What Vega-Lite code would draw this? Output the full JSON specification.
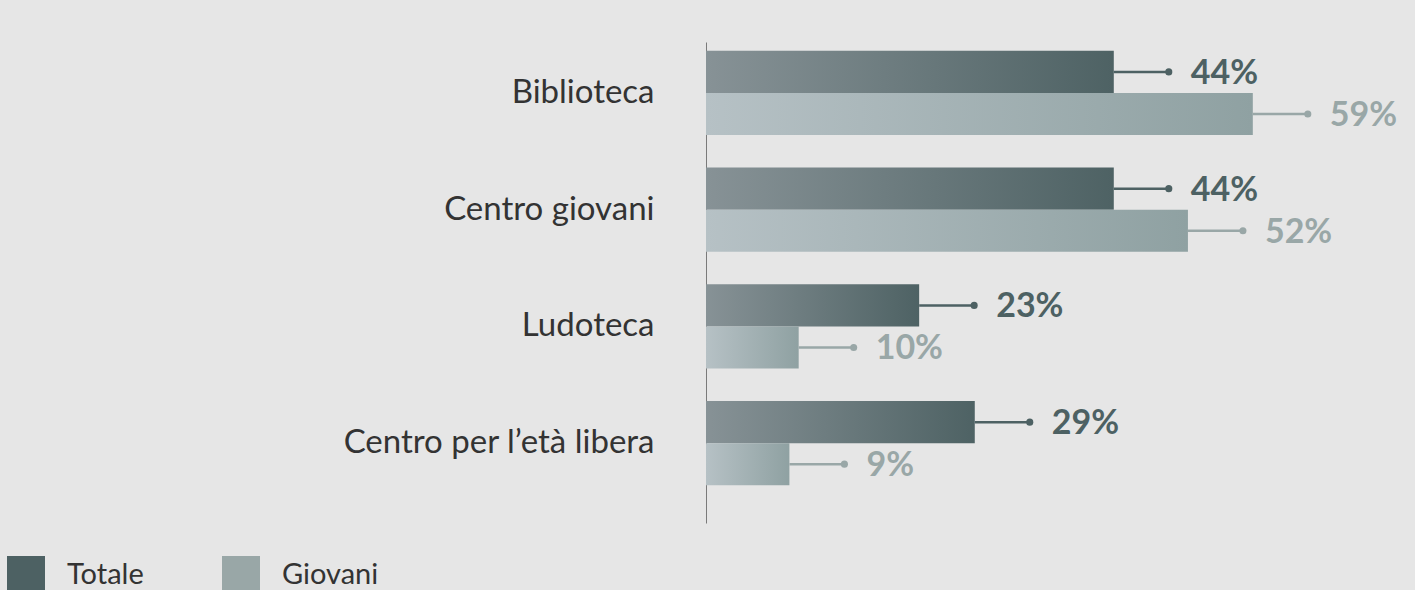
{
  "$schema": "https://vega.github.io/schema/vega-lite/v6.json",
  "width": 709,
  "height": 481,
  "autosize": {"type": "none"},
  "padding": {"left": 706, "top": 42, "right": 0, "bottom": 67},
  "background": "#e6e6e6",
  "config": {
    "view": {"stroke": null},
    "font": "Lato",
    "text": {"font": "Lato"}
  },
  "data": {
    "values": [
      {"cat": "Biblioteca", "series": "Totale", "value": 0.44},
      {"cat": "Biblioteca", "series": "Giovani", "value": 0.59},
      {"cat": "Centro giovani", "series": "Totale", "value": 0.44},
      {"cat": "Centro giovani", "series": "Giovani", "value": 0.52},
      {"cat": "Ludoteca", "series": "Totale", "value": 0.23},
      {"cat": "Ludoteca", "series": "Giovani", "value": 0.10},
      {"cat": "Centro per l’età libera", "series": "Totale", "value": 0.29},
      {"cat": "Centro per l’età libera", "series": "Giovani", "value": 0.09}
    ]
  },
  "encoding": {
    "y": {
      "field": "cat",
      "type": "nominal",
      "sort": ["Biblioteca", "Centro giovani", "Ludoteca", "Centro per l’età libera"],
      "scale": {"paddingInner": 0.28, "paddingOuter": 0.2, "align": 0.19},
      "axis": {
        "title": null,
        "domain": true,
        "domainColor": "#7a7a7a",
        "domainWidth": 1,
        "ticks": false,
        "labelFontSize": 33,
        "labelPadding": 52,
        "labelColor": "#333333",
        "labelFont": "Lato",
        "labelLimit": 500
      }
    },
    "yOffset": {
      "field": "series",
      "type": "nominal",
      "sort": ["Totale", "Giovani"],
      "scale": {"paddingInner": 0, "paddingOuter": 0}
    },
    "x": {
      "field": "value",
      "type": "quantitative",
      "scale": {"domain": [0, 0.765], "nice": false, "zero": true},
      "axis": null
    },
    "color": {
      "field": "series",
      "type": "nominal",
      "sort": ["Totale", "Giovani"],
      "scale": {"domain": ["Totale", "Giovani"], "range": ["#4d6163", "#99a7a7"]},
      "legend": {
        "title": null,
        "orient": "none",
        "legendX": -699,
        "legendY": 514,
        "direction": "horizontal",
        "symbolType": "square",
        "symbolSize": 1444,
        "symbolStrokeWidth": 0,
        "symbolOpacity": 1,
        "labelFontSize": 29,
        "labelFont": "Lato",
        "labelColor": "#333333",
        "labelOffset": 22,
        "columnPadding": 78
      }
    }
  },
  "layer": [
    {
      "mark": {"type": "bar"},
      "encoding": {
        "fill": {
          "condition": {
            "test": "datum.series === 'Totale'",
            "value": {"gradient": "linear", "x1": 0, "y1": 0, "x2": 1, "y2": 0,
              "stops": [{"offset": 0, "color": "#879296"}, {"offset": 1, "color": "#4e6264"}]}
          },
          "value": {"gradient": "linear", "x1": 0, "y1": 0, "x2": 1, "y2": 0,
            "stops": [{"offset": 0, "color": "#b6c1c5"}, {"offset": 1, "color": "#8fa1a2"}]}
        }
      }
    },
    {
      "mark": {"type": "rule", "x2Offset": 55, "strokeWidth": 2.5},
      "encoding": {
        "x2": {"field": "value"}
      }
    },
    {
      "mark": {"type": "point", "filled": true, "xOffset": 55, "size": 50, "opacity": 1}
    },
    {
      "mark": {"type": "text", "dx": 77, "dy": 2, "align": "left", "baseline": "middle", "fontSize": 34, "fontWeight": "bold"},
      "encoding": {
        "text": {"field": "value", "type": "quantitative", "format": ".0%"}
      }
    }
  ]
}
